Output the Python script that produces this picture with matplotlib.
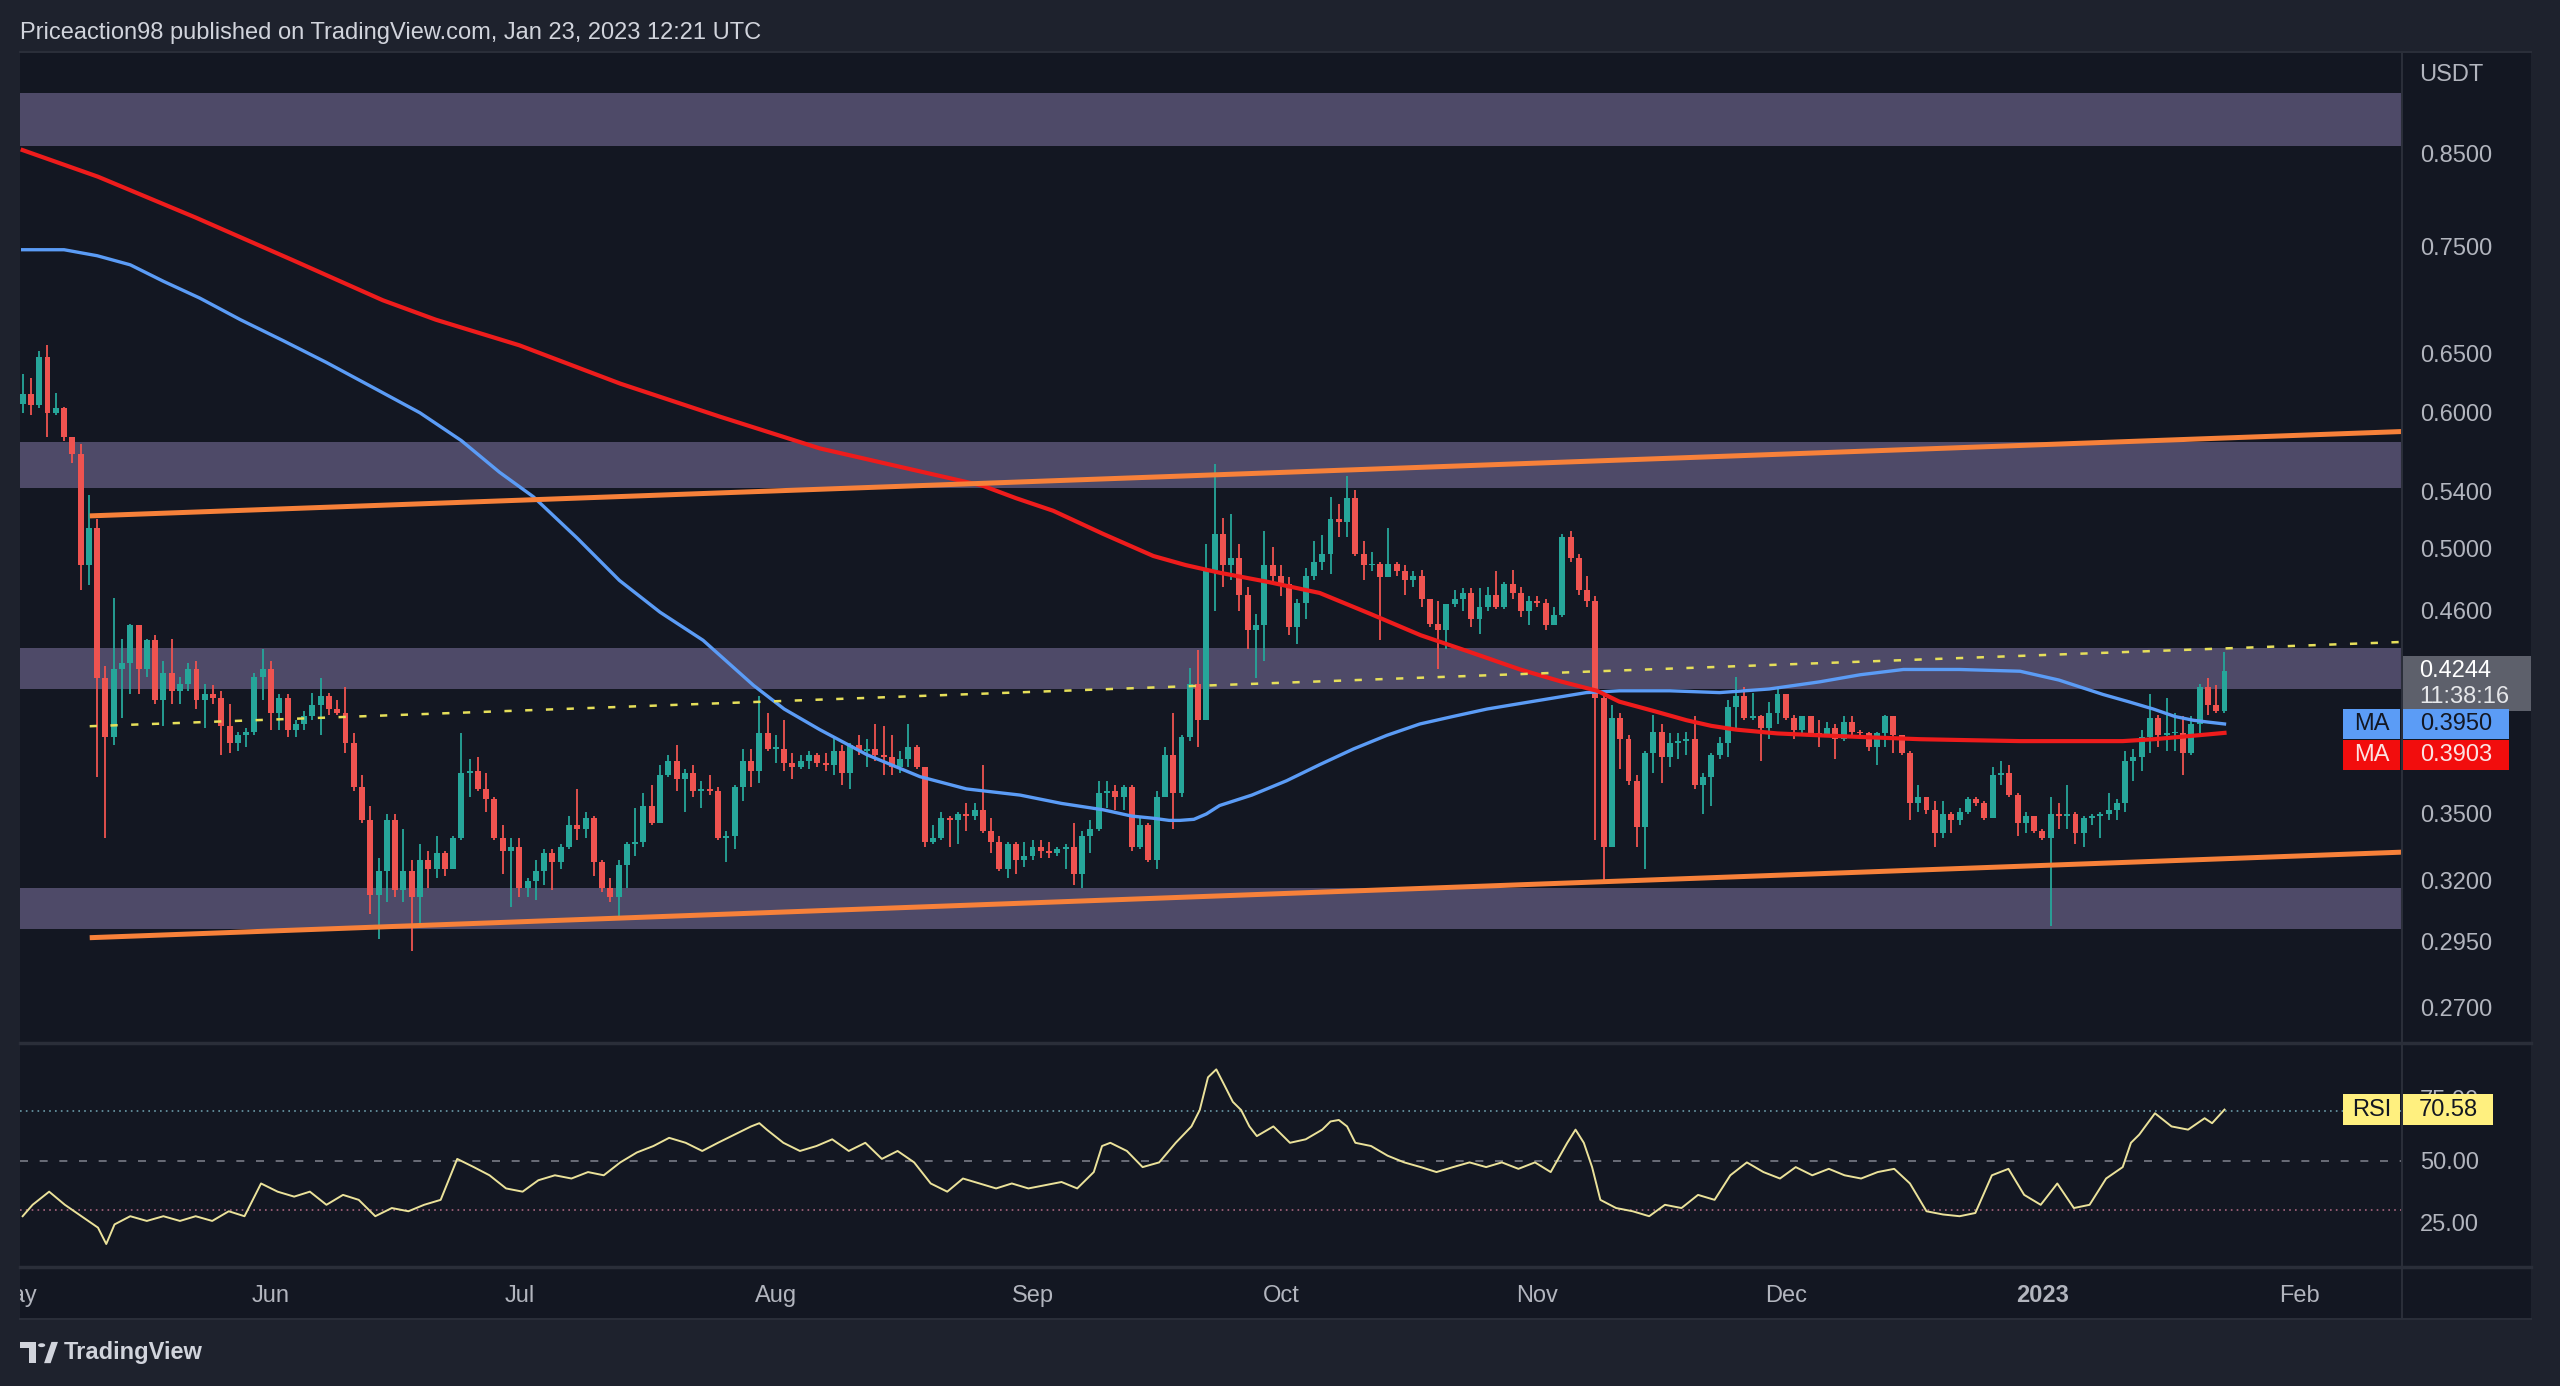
import numpy as np
import pandas as pd
import matplotlib
matplotlib.use('Agg')
import matplotlib.pyplot as plt
import matplotlib.ticker as mticker
from matplotlib import transforms
from matplotlib.patches import Rectangle, Polygon, Circle
from matplotlib.lines import Line2D

plt.rcParams['font.family'] = ['Liberation Sans', 'DejaVu Sans']

# XRP/USDT daily candles (first candle = 2022-05-02)
start_date = '2022-05-02'
first_open = 0.607
closes = [
    0.615, 0.606, 0.647, 0.600, 0.604, 0.581, 0.568, 0.489, 0.514, 0.420,
    0.388, 0.425, 0.429, 0.451, 0.425, 0.442, 0.408, 0.423, 0.413, 0.417,
    0.425, 0.408, 0.411, 0.409, 0.394, 0.385, 0.389, 0.391, 0.421, 0.425,
    0.401, 0.409, 0.392, 0.395, 0.399, 0.405, 0.410, 0.403, 0.401, 0.385,
    0.363, 0.347, 0.314, 0.324, 0.347, 0.316, 0.324, 0.313, 0.329, 0.325,
    0.332, 0.325, 0.339, 0.370, 0.371, 0.362, 0.357, 0.339, 0.333, 0.335,
    0.317, 0.320, 0.324, 0.332, 0.328, 0.335, 0.345, 0.343, 0.348, 0.328,
    0.317, 0.313, 0.327, 0.336, 0.337, 0.354, 0.346, 0.369, 0.376, 0.367,
    0.370, 0.361, 0.362, 0.361, 0.339, 0.340, 0.363, 0.376, 0.371, 0.390,
    0.382, 0.382, 0.375, 0.373, 0.376, 0.379, 0.375, 0.374, 0.381, 0.370,
    0.384, 0.381, 0.382, 0.379, 0.378, 0.373, 0.377, 0.383, 0.373, 0.337,
    0.339, 0.348, 0.347, 0.350, 0.349, 0.352, 0.342, 0.337, 0.325, 0.336,
    0.329, 0.331, 0.335, 0.333, 0.332, 0.334, 0.335, 0.323, 0.340, 0.343,
    0.360, 0.361, 0.358, 0.363, 0.335, 0.345, 0.329, 0.358, 0.379, 0.360,
    0.388, 0.417, 0.397, 0.486, 0.510, 0.489, 0.494, 0.470, 0.448, 0.451,
    0.489, 0.482, 0.477, 0.450, 0.465, 0.482, 0.491, 0.496, 0.520, 0.518,
    0.535, 0.496, 0.489, 0.490, 0.481, 0.490, 0.485, 0.479, 0.482, 0.467,
    0.452, 0.448, 0.464, 0.467, 0.471, 0.455, 0.462, 0.470, 0.462, 0.477,
    0.471, 0.460, 0.466, 0.465, 0.451, 0.457, 0.508, 0.494, 0.473, 0.466,
    0.409, 0.335, 0.398, 0.387, 0.366, 0.344, 0.380, 0.391, 0.378, 0.385,
    0.386, 0.387, 0.364, 0.368, 0.379, 0.385, 0.404, 0.410, 0.398, 0.399,
    0.393, 0.401, 0.411, 0.398, 0.392, 0.399, 0.390, 0.389, 0.393, 0.387,
    0.396, 0.391, 0.390, 0.383, 0.390, 0.399, 0.389, 0.380, 0.355, 0.358,
    0.352, 0.341, 0.350, 0.347, 0.351, 0.357, 0.355, 0.348, 0.369, 0.370,
    0.359, 0.346, 0.349, 0.342, 0.339, 0.350, 0.349, 0.350, 0.341, 0.348,
    0.349, 0.350, 0.352, 0.355, 0.376, 0.378, 0.388, 0.398, 0.389, 0.390,
    0.390, 0.380, 0.395, 0.415, 0.405, 0.402, 0.4244,
]
highs = [
    0.632, 0.629, 0.652, 0.657, 0.616, 0.605, 0.581, 0.575, 0.537, 0.520,
    0.427, 0.468, 0.443, 0.452, 0.451, 0.443, 0.445, 0.430, 0.443, 0.421,
    0.429, 0.430, 0.417, 0.416, 0.413, 0.406, 0.391, 0.393, 0.423, 0.437,
    0.430, 0.411, 0.411, 0.397, 0.402, 0.412, 0.420, 0.412, 0.408, 0.415,
    0.390, 0.369, 0.354, 0.330, 0.350, 0.350, 0.343, 0.329, 0.336, 0.333,
    0.340, 0.333, 0.340, 0.390, 0.377, 0.378, 0.370, 0.358, 0.345, 0.339,
    0.339, 0.321, 0.329, 0.334, 0.334, 0.336, 0.349, 0.362, 0.351, 0.349,
    0.329, 0.321, 0.329, 0.337, 0.353, 0.360, 0.364, 0.374, 0.379, 0.384,
    0.372, 0.374, 0.366, 0.369, 0.363, 0.342, 0.364, 0.382, 0.382, 0.410,
    0.401, 0.389, 0.397, 0.380, 0.379, 0.381, 0.380, 0.380, 0.388, 0.384,
    0.385, 0.389, 0.387, 0.395, 0.394, 0.389, 0.381, 0.395, 0.384, 0.373,
    0.345, 0.351, 0.349, 0.351, 0.355, 0.355, 0.374, 0.348, 0.340, 0.337,
    0.337, 0.337, 0.338, 0.338, 0.337, 0.335, 0.336, 0.346, 0.342, 0.347,
    0.366, 0.366, 0.364, 0.364, 0.364, 0.348, 0.346, 0.361, 0.383, 0.401,
    0.389, 0.426, 0.436, 0.503, 0.560, 0.521, 0.524, 0.503, 0.475, 0.458,
    0.512, 0.501, 0.489, 0.481, 0.467, 0.487, 0.505, 0.509, 0.536, 0.531,
    0.551, 0.541, 0.505, 0.498, 0.491, 0.514, 0.491, 0.489, 0.485, 0.486,
    0.467, 0.466, 0.464, 0.473, 0.474, 0.474, 0.474, 0.475, 0.485, 0.478,
    0.486, 0.475, 0.469, 0.469, 0.467, 0.462, 0.510, 0.512, 0.496, 0.482,
    0.469, 0.413, 0.405, 0.401, 0.389, 0.369, 0.381, 0.400, 0.395, 0.390,
    0.390, 0.391, 0.399, 0.370, 0.380, 0.388, 0.408, 0.421, 0.415, 0.412,
    0.400, 0.407, 0.414, 0.411, 0.400, 0.399, 0.398, 0.397, 0.396, 0.395,
    0.399, 0.399, 0.392, 0.391, 0.391, 0.400, 0.399, 0.389, 0.381, 0.364,
    0.358, 0.356, 0.356, 0.351, 0.353, 0.358, 0.358, 0.356, 0.373, 0.376,
    0.374, 0.360, 0.351, 0.349, 0.343, 0.358, 0.355, 0.364, 0.351, 0.349,
    0.350, 0.351, 0.360, 0.357, 0.381, 0.382, 0.392, 0.411, 0.400, 0.409,
    0.401, 0.399, 0.399, 0.417, 0.420, 0.416, 0.435,
]
lows = [
    0.600, 0.598, 0.604, 0.581, 0.598, 0.578, 0.561, 0.473, 0.476, 0.368,
    0.339, 0.384, 0.398, 0.411, 0.411, 0.421, 0.406, 0.394, 0.406, 0.406,
    0.413, 0.403, 0.393, 0.406, 0.379, 0.380, 0.381, 0.383, 0.389, 0.408,
    0.392, 0.392, 0.388, 0.388, 0.392, 0.397, 0.389, 0.400, 0.400, 0.380,
    0.361, 0.346, 0.306, 0.296, 0.311, 0.313, 0.311, 0.291, 0.301, 0.317,
    0.321, 0.322, 0.325, 0.338, 0.358, 0.361, 0.351, 0.338, 0.323, 0.309,
    0.313, 0.313, 0.312, 0.318, 0.316, 0.325, 0.334, 0.338, 0.339, 0.322,
    0.315, 0.311, 0.305, 0.317, 0.331, 0.335, 0.345, 0.346, 0.368, 0.361,
    0.351, 0.358, 0.353, 0.359, 0.338, 0.328, 0.334, 0.356, 0.363, 0.365,
    0.381, 0.375, 0.371, 0.367, 0.372, 0.372, 0.373, 0.371, 0.369, 0.364,
    0.362, 0.379, 0.373, 0.376, 0.369, 0.369, 0.370, 0.373, 0.372, 0.335,
    0.336, 0.338, 0.335, 0.336, 0.342, 0.347, 0.341, 0.332, 0.324, 0.321,
    0.323, 0.326, 0.329, 0.330, 0.330, 0.331, 0.325, 0.318, 0.317, 0.332,
    0.342, 0.353, 0.352, 0.352, 0.333, 0.334, 0.328, 0.325, 0.358, 0.343,
    0.358, 0.386, 0.383, 0.397, 0.460, 0.475, 0.479, 0.460, 0.437, 0.420,
    0.430, 0.478, 0.469, 0.445, 0.440, 0.455, 0.479, 0.486, 0.483, 0.508,
    0.508, 0.495, 0.479, 0.485, 0.442, 0.481, 0.482, 0.470, 0.475, 0.462,
    0.450, 0.425, 0.437, 0.462, 0.460, 0.450, 0.446, 0.460, 0.461, 0.461,
    0.467, 0.456, 0.451, 0.462, 0.448, 0.451, 0.456, 0.491, 0.470, 0.462,
    0.338, 0.320, 0.335, 0.372, 0.364, 0.335, 0.325, 0.370, 0.365, 0.373,
    0.377, 0.379, 0.362, 0.350, 0.354, 0.377, 0.378, 0.392, 0.397, 0.397,
    0.376, 0.387, 0.395, 0.397, 0.387, 0.390, 0.389, 0.383, 0.389, 0.377,
    0.386, 0.389, 0.387, 0.381, 0.374, 0.383, 0.380, 0.379, 0.347, 0.351,
    0.350, 0.335, 0.339, 0.341, 0.345, 0.350, 0.354, 0.347, 0.348, 0.364,
    0.358, 0.340, 0.341, 0.341, 0.338, 0.301, 0.343, 0.343, 0.336, 0.335,
    0.345, 0.339, 0.347, 0.347, 0.351, 0.366, 0.371, 0.380, 0.383, 0.381,
    0.381, 0.369, 0.379, 0.390, 0.400, 0.401, 0.401,
]

# moving averages (blue = shorter, red = longer), day index -> value
ma_blue_day = [0, 5, 9, 13, 17, 21.4, 26.3, 31.5, 36.7, 42, 48, 53, 57.6, 61.7,
               67, 72.1, 77, 82.2, 88.3, 92, 96.3, 102, 108.4, 114, 120.5, 125.5,
               130.5, 134, 136.6, 138.5, 139.8, 141.5, 143, 144.6, 148.5, 152.7,
               156.7, 160.8, 164.8, 168.8, 172.8, 176.9, 180.9, 184.9, 188.9, 192.9,
               199, 205, 211, 217.1, 222, 227.2, 234, 241.3, 246, 251.3, 254.4,
               257.4, 260, 262.2, 264, 266]
ma_blue_val = [0.747, 0.747, 0.741, 0.732, 0.716, 0.700, 0.680, 0.661, 0.642, 0.622,
               0.600, 0.578, 0.554, 0.536, 0.507, 0.479, 0.459, 0.442, 0.416, 0.403,
               0.392, 0.379, 0.368, 0.362, 0.359, 0.355, 0.352, 0.349, 0.348, 0.347,
               0.347, 0.3475, 0.350, 0.354, 0.359, 0.366, 0.374, 0.382, 0.389, 0.395,
               0.399, 0.403, 0.406, 0.409, 0.412, 0.413, 0.413, 0.412, 0.414, 0.418,
               0.422, 0.425, 0.425, 0.424, 0.419, 0.411, 0.407, 0.403, 0.399, 0.397,
               0.396, 0.395]
ma_red_day = [0, 9.1, 20.9, 32.8, 43.5, 49.9, 60, 72.2, 84.2, 96.3, 106, 116, 120,
              124.5, 130.5, 136.6, 140.5, 144.6, 150.5, 156.7, 162.8, 168.9, 174.9,
              180.9, 186, 190.2, 192.9, 197, 201, 204, 207, 212, 217.1, 223, 229.2,
              235, 241.3, 247.5, 253.7, 257.5, 261.4, 264, 266]
ma_red_val = [0.854, 0.824, 0.780, 0.736, 0.698, 0.680, 0.657, 0.624, 0.597, 0.572,
              0.558, 0.544, 0.535, 0.526, 0.510, 0.495, 0.489, 0.484, 0.478, 0.471,
              0.458, 0.445, 0.435, 0.425, 0.418, 0.413, 0.407, 0.402, 0.397, 0.394,
              0.392, 0.390, 0.389, 0.388, 0.387, 0.3865, 0.386, 0.386, 0.386, 0.387,
              0.3885, 0.3895, 0.3903]

# RSI(14), day index -> value
rsi_day = [0, 1.2, 3.2, 5.1, 7.1, 9.1, 10.1, 11.1, 13.0, 15.0,
           17.0, 19.0, 20.9, 22.9, 24.9, 26.8, 28.8, 30.8, 32.8, 34.7,
           36.7, 38.7, 40.6, 42.6, 44.6, 46.6, 48.5, 50.5, 52.5, 54.5,
           56.4, 58.4, 60.4, 62.3, 64.3, 66.3, 68.3, 70.2, 72.2, 74.2,
           76.2, 78.1, 80.1, 82.1, 84.0, 86.0, 88.0, 89.0, 89.9, 91.9,
           93.9, 95.9, 97.8, 99.8, 101.8, 103.8, 105.7, 107.7, 109.7, 111.7,
           113.6, 115.6, 117.6, 119.5, 121.5, 123.5, 125.5, 127.4, 129.4, 130.4,
           131.4, 133.4, 135.3, 137.3, 139.3, 141.2, 142.2, 143.2, 144.2, 145.2,
           146.2, 147.2, 148.2, 149.1, 151.1, 153.1, 155.0, 157.0, 158.0, 159.0,
           160.0, 161.0, 162.9, 164.9, 166.9, 168.9, 170.8, 172.8, 174.8, 176.8,
           178.7, 180.7, 182.7, 184.6, 186.6, 187.6, 188.6, 189.6, 190.6, 192.5,
           194.5, 196.5, 198.4, 200.4, 202.4, 204.4, 206.3, 208.3, 210.3, 212.3,
           214.2, 216.2, 218.2, 220.1, 222.1, 224.1, 226.1, 228.0, 230.0, 232.0,
           234.0, 235.9, 237.9, 239.9, 241.8, 243.8, 245.8, 247.8, 249.7, 251.7,
           253.7, 254.7, 255.7, 257.6, 259.6, 261.6, 263.6, 264.5, 266]
rsi_val = [27.6, 32.2, 37.5, 32.2, 27.6, 23.0, 16.4, 24.3, 27.6, 25.7,
           27.6, 25.7, 27.6, 25.7, 29.6, 27.6, 40.8, 37.5, 35.5, 37.5,
           32.2, 36.2, 34.2, 27.6, 30.9, 29.6, 32.2, 34.2, 50.7, 47.4,
           44.1, 38.8, 37.5, 42.1, 44.1, 42.8, 45.4, 44.1, 49.3, 53.3,
           55.9, 59.2, 57.2, 53.9, 57.2, 60.5, 63.8, 65.1, 62.5, 57.2,
           53.9, 55.9, 58.6, 53.9, 57.2, 50.7, 53.9, 49.3, 40.8, 37.5,
           42.8, 40.8, 38.8, 40.8, 38.8, 40.1, 41.4, 38.8, 45.4, 55.9,
           57.2, 53.9, 47.4, 49.3, 57.2, 63.8, 70.4, 83.6, 86.8, 80.3,
           73.7, 70.4, 63.8, 59.9, 63.8, 57.2, 58.6, 62.5, 65.8, 66.4,
           63.8, 57.2, 55.9, 52.0, 49.3, 47.4, 45.4, 47.4, 49.3, 47.4,
           49.3, 46.7, 49.3, 45.4, 57.2, 62.5, 57.2, 47.4, 34.2, 30.9,
           29.6, 27.6, 32.2, 30.9, 36.2, 34.2, 44.1, 49.3, 45.4, 42.8,
           47.4, 44.1, 46.7, 44.1, 42.8, 45.4, 46.7, 40.8, 29.6, 28.3,
           27.6, 28.9, 44.1, 46.7, 36.2, 32.2, 40.8, 30.9, 32.2, 42.8,
           47.4, 57.2, 60.5, 69.1, 63.8, 62.5, 67.1, 65.1, 70.58]

# drawn zones and trend lines
zones = [(0.8588, 0.9221), (0.5422, 0.5768), (0.4138, 0.4373), (0.3000, 0.3169)]
trend_days = [8.1, 287.4]
upper_trend = [0.5224, 0.5851]
lower_trend = [0.2964, 0.3325]
mid_trend = [0.3938, 0.4410]

price_ticks = [0.27, 0.295, 0.32, 0.35, 0.46, 0.50, 0.54, 0.60, 0.65, 0.75, 0.85]
rsi_ticks = [25, 50, 75]
month_dates = ['2022-05-01', '2022-06-01', '2022-07-01', '2022-08-01', '2022-09-01',
               '2022-10-01', '2022-11-01', '2022-12-01', '2023-01-01', '2023-02-01']
month_labels = ['May', 'Jun', 'Jul', 'Aug', 'Sep', 'Oct', 'Nov', 'Dec', '2023', 'Feb']

last_price = 0.4244
countdown = '11:38:16'
ma_blue_last = 0.3950
ma_red_last = 0.3903
rsi_last = 70.58

title = 'Priceaction98 published on TradingView.com, Jan 23, 2023 12:21 UTC'

# ---- look ----
W, H = 1568, 849          # layout grid of the screenshot
BG_OUT = '#1e222d'
BG = '#131722'
SEP = '#2a2e39'
TXT = '#b2b5be'
UP = '#26a69a'
DOWN = '#ef5350'
ZONE = '#4e4a68'
ORANGE = '#f7813a'
BLUE = '#5b9cf6'
RED = '#ee1c1c'
YEL = '#e6df5a'
RSI_COL = '#ebe29a'
FS = 17


def frac(x0, y0, x1, y1):
    return [x0 / W, 1 - y1 / H, (x1 - x0) / W, (y1 - y0) / H]


fig = plt.figure(figsize=(25.6, 13.86), dpi=100, facecolor=BG_OUT)
fig.add_artist(Rectangle((12 / W, 1 - 808 / H), 1538 / W, 776 / H,
                         transform=fig.transFigure, fc=BG, ec='none', zorder=0))

ax = fig.add_axes(frac(12, 32, 1471, 638), facecolor=BG)
ax_r = fig.add_axes(frac(12, 640, 1471, 776), facecolor=BG)
ax_t = fig.add_axes(frac(12, 776, 1471, 808), facecolor=BG)

xlim = (-0.37, 287.4)
for a in (ax, ax_r, ax_t):
    a.set_xlim(*xlim)
    a.set_xticks([])
    for s in a.spines.values():
        s.set_visible(False)

# ---- price pane ----
ax.set_yscale('log')
ax.set_ylim(0.2578, 0.974)

for lo, hi in zones:
    ax.axhspan(lo, hi, color=ZONE, lw=0, zorder=1)

n = len(closes)
x = np.arange(n)
c = np.array(closes)
o = np.array([first_open] + closes[:-1])
hi_ = np.maximum(np.array(highs[:n]), np.maximum(o, c))
lo_ = np.minimum(np.array(lows[:n]), np.minimum(o, c))
col = np.where(c >= o, UP, DOWN)
ax.vlines(x, lo_, hi_, colors=col, lw=1.3, zorder=3)
body = np.maximum(np.abs(c - o), c * 0.002)
ax.bar(x, body, bottom=np.minimum(o, c), width=0.72, color=col, lw=0, zorder=3.2)

ax.plot(ma_blue_day, ma_blue_val, color=BLUE, lw=2.4, zorder=4, solid_joinstyle='round')
ax.plot(ma_red_day, ma_red_val, color=RED, lw=3.0, zorder=4, solid_joinstyle='round')
ax.plot(trend_days, upper_trend, color=ORANGE, lw=3.6, solid_capstyle='butt', zorder=5)
ax.plot(trend_days, lower_trend, color=ORANGE, lw=3.6, solid_capstyle='butt', zorder=5)
ax.plot(trend_days, mid_trend, color=YEL, lw=1.8, dashes=(2.9, 5.4), zorder=5)

ax.yaxis.set_major_locator(mticker.FixedLocator(price_ticks))
ax.yaxis.set_major_formatter(mticker.FuncFormatter(lambda v, p: f'{v:.4f}'))
ax.yaxis.set_minor_locator(mticker.NullLocator())
ax.yaxis.set_minor_formatter(mticker.NullFormatter())
ax.yaxis.tick_right()
ax.tick_params(axis='y', length=0, pad=13, labelsize=FS, labelcolor=TXT)

# ---- RSI pane ----
ax_r.set_ylim(7.2, 96.7)
ax_r.plot(rsi_day, rsi_val, color=RSI_COL, lw=1.4, zorder=4)
ax_r.axhline(70, color='#6a9aa8', lw=1.2, ls=(0, (1, 2.5)), zorder=2)
ax_r.axhline(50, color='#787b86', lw=1.2, ls=(0, (4.8, 7)), zorder=2)
ax_r.axhline(30, color='#a8657e', lw=1.2, ls=(0, (1, 2.5)), zorder=2)
ax_r.set_yticks(rsi_ticks)
ax_r.set_yticklabels([f'{v:.2f}' for v in rsi_ticks])
ax_r.yaxis.tick_right()
ax_r.tick_params(axis='y', length=0, pad=13, labelsize=FS, labelcolor=TXT)

# ---- time axis ----
ax_t.set_yticks([])
t0 = pd.Timestamp(start_date)
tt = transforms.blended_transform_factory(ax_t.transData, ax_t.transAxes)
for d, lab in zip(month_dates, month_labels):
    day = (pd.Timestamp(d) - t0).days
    ax_t.text(day, 0.45, lab, transform=tt, ha='center', va='center', color=TXT,
              fontsize=FS, clip_on=True,
              fontweight='bold' if lab.isdigit() else 'normal')

# ---- frame lines ----
def fig_line(xs, ys, lw=1.5):
    fig.add_artist(Line2D([v / W for v in xs], [1 - v / H for v in ys],
                          transform=fig.transFigure, color=SEP, lw=lw, zorder=2))

fig_line([12, 1550], [32, 32])
fig_line([12, 1550], [639, 639], lw=2.5)
fig_line([12, 1550], [776, 776], lw=2.5)
fig_line([12, 1550], [808, 808])
fig_line([1471, 1471], [32, 808])

# ---- value tags on the price scale ----
def fy(axis, v):
    return fig.transFigure.inverted().transform(axis.transData.transform((0, v)))[1]


def tag(x0, x1, yc, hgt, fc, text, tc):
    fig.add_artist(Rectangle((x0 / W, yc - hgt / 2 / H), (x1 - x0) / W, hgt / H,
                             transform=fig.transFigure, fc=fc, ec='none', zorder=6))
    fig.text((x0 + x1) / 2 / W, yc, text, ha='center', va='center', color=tc,
             fontsize=FS, zorder=7)


yc = fy(ax, last_price)
fig.add_artist(Rectangle((1472 / W, yc - 25 / H), 78 / W, 34 / H,
                         transform=fig.transFigure, fc='#5d606b', ec='none', zorder=6))
fig.text(1482 / W, yc, f'{last_price:.4f}', ha='left', va='center', color='#ffffff',
         fontsize=FS, zorder=7)
fig.text(1482 / W, yc - 16.5 / H, countdown, ha='left', va='center', color='#e6e7ea',
         fontsize=FS, zorder=7)

yb = fy(ax, ma_blue_last)
tag(1435, 1470, yb, 18, BLUE, 'MA', '#131722')
tag(1472, 1537, yb, 18, BLUE, f'{ma_blue_last:.4f}', '#131722')
yr = yb - 19 / H
tag(1435, 1470, yr, 18, '#f20d0d', 'MA', '#fbe3e3')
tag(1472, 1537, yr, 18, '#f20d0d', f'{ma_red_last:.4f}', '#fbe3e3')

yrsi = fy(ax_r, rsi_last)
tag(1435, 1470, yrsi, 19, '#fff07f', 'RSI', '#131722')
tag(1472, 1527, yrsi, 19, '#fff07f', f'{rsi_last:.2f}', '#131722')

# ---- header / footer ----
fig.text(12 / W, 1 - 20 / H, title, ha='left', va='center', color='#d1d4dc', fontsize=17)
fig.text(1482 / W, 1 - 46 / H, 'USDT', ha='left', va='center', color=TXT, fontsize=FS)

logo = [(12, 822), (22, 822), (22, 835), (18, 835), (18, 826), (12, 826)]
fig.add_artist(Polygon([(px / W, 1 - py / H) for px, py in logo], closed=True,
                       transform=fig.transFigure, fc='#d1d4dc', ec='none'))
fig.add_artist(Circle((25.5 / W, 1 - 824 / H), 2.2 / W, transform=fig.transFigure,
                      fc='#d1d4dc', ec='none'))
slash = [(27, 835), (31.5, 822), (35.5, 822), (31, 835)]
fig.add_artist(Polygon([(px / W, 1 - py / H) for px, py in slash], closed=True,
                       transform=fig.transFigure, fc='#d1d4dc', ec='none'))
fig.text(39 / W, 1 - 828.5 / H, 'TradingView', ha='left', va='center', color='#d1d4dc',
         fontsize=17, fontweight='bold')

fig.savefig('out.png', dpi=100, facecolor=BG_OUT)
